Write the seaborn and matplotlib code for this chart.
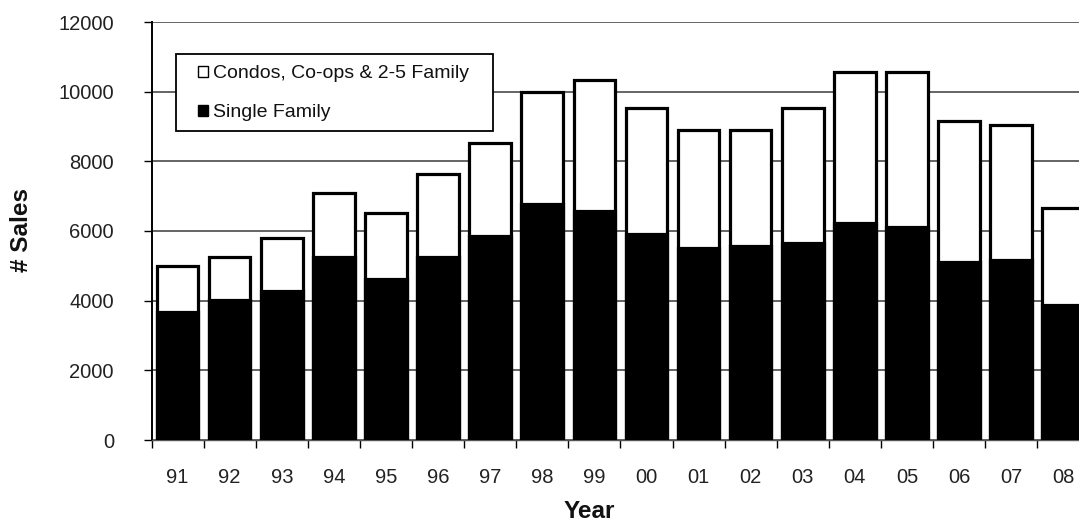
import matplotlib
matplotlib.use("Agg")
import matplotlib.pyplot as plt
from matplotlib.patches import Patch, Rectangle
import pandas as pd
import seaborn as sns

# Annual sales counts
years = ["91", "92", "93", "94", "95", "96", "97", "98", "99",
         "00", "01", "02", "03", "04", "05", "06", "07", "08"]
single_family = [3680, 4010, 4290, 5250, 4620, 5250, 5860, 6780, 6580,
                 5900, 5500, 5570, 5660, 6220, 6120, 5120, 5180, 3880]
total_sales = [4990, 5260, 5790, 7100, 6510, 7630, 8520, 10000, 10340,
               9540, 8900, 8900, 9540, 10570, 10560, 9170, 9040, 6650]
condos_coops = [t - s for t, s in zip(total_sales, single_family)]

y_ticks = [0, 2000, 4000, 6000, 8000, 10000, 12000]

df = pd.DataFrame({
    "Year": years,
    "Single Family": single_family,
    "Total": [s + c for s, c in zip(single_family, condos_coops)],
})

sns.set_theme(style="white")
plt.rcParams["font.family"] = ["Liberation Sans", "DejaVu Sans"]

W, H = 1079, 524
fig = plt.figure(figsize=(W / 100, H / 100), dpi=100)
left_px, right_px, top_px, bottom_px = 151.5, 1089.3, 22, 440
ax = fig.add_axes([left_px / W, (H - bottom_px) / H,
                   (right_px - left_px) / W, (bottom_px - top_px) / H])

# Stacked bars: full height in white, single family in black on top of it
sns.barplot(data=df, x="Year", y="Total", color="white", edgecolor="black",
            linewidth=2.3, width=0.8, saturation=1, ax=ax, zorder=3)
sns.barplot(data=df, x="Year", y="Single Family", color="black",
            edgecolor="black", linewidth=2.3, width=0.8, saturation=1,
            ax=ax, zorder=4)

n = len(years)
ax.set_xlim(-0.5, n - 0.5)
ax.set_ylim(0, 12000)

# Horizontal gridlines
ax.set_yticks(y_ticks)
ax.yaxis.grid(True, color="#3a3a3a", linewidth=1.1)
ax.xaxis.grid(False)
ax.set_axisbelow(True)

# Category boundaries get tick marks, labels sit centred under each bar
ax.set_xticks([i - 0.5 for i in range(n + 1)])
ax.set_xticklabels([])
ax.set_xticks(range(n), minor=True)
ax.set_xticklabels(years, minor=True)
ax.tick_params(axis="x", which="major", direction="out", length=6,
               width=1, color="black", bottom=True)
ax.tick_params(axis="x", which="minor", length=0, pad=20,
               labelsize=14.5, labelcolor="#222222")
ax.tick_params(axis="y", direction="out", length=6, width=1,
               color="black", left=True, pad=21, labelsize=14.5,
               labelcolor="#222222")

for side in ("top", "right"):
    ax.spines[side].set_visible(False)
ax.spines["left"].set_color("black")
ax.spines["left"].set_linewidth(1.4)
ax.spines["bottom"].set_color("#555555")
ax.spines["bottom"].set_linewidth(1)

ax.set_xlabel("")
ax.set_ylabel("")
fig.text(589 / W, 1 - 511 / H, "Year", ha="center", va="center",
         fontsize=17.5, fontweight="bold", color="#111111")
fig.text(22 / W, 1 - 230 / H, "# Sales", ha="center", va="center",
         rotation=90, fontsize=17.5, fontweight="bold", color="#111111")

# Legend box
box_l, box_t, box_r, box_b = 176, 54, 493, 131
ax.add_patch(Rectangle((box_l / W, 1 - box_b / H),
                       (box_r - box_l) / W, (box_b - box_t) / H,
                       transform=fig.transFigure, facecolor="white",
                       edgecolor="black", linewidth=1.3, zorder=9,
                       clip_on=False))

handles = [
    Patch(facecolor="white", edgecolor="black", linewidth=1,
          label="Condos, Co-ops & 2-5 Family"),
    Patch(facecolor="black", edgecolor="black", linewidth=1,
          label="Single Family"),
]
leg = ax.legend(handles=handles, loc="upper left",
                bbox_to_anchor=(198 / W, 1 - 65 / H),
                bbox_transform=fig.transFigure,
                frameon=False, fontsize=14,
                handlelength=0.5, handleheight=0.5, handletextpad=0.25,
                labelspacing=1.15, borderpad=0, borderaxespad=0)
leg.set_zorder(10)
for t in leg.get_texts():
    t.set_color("#111111")

fig.savefig("out.png", dpi=100)
